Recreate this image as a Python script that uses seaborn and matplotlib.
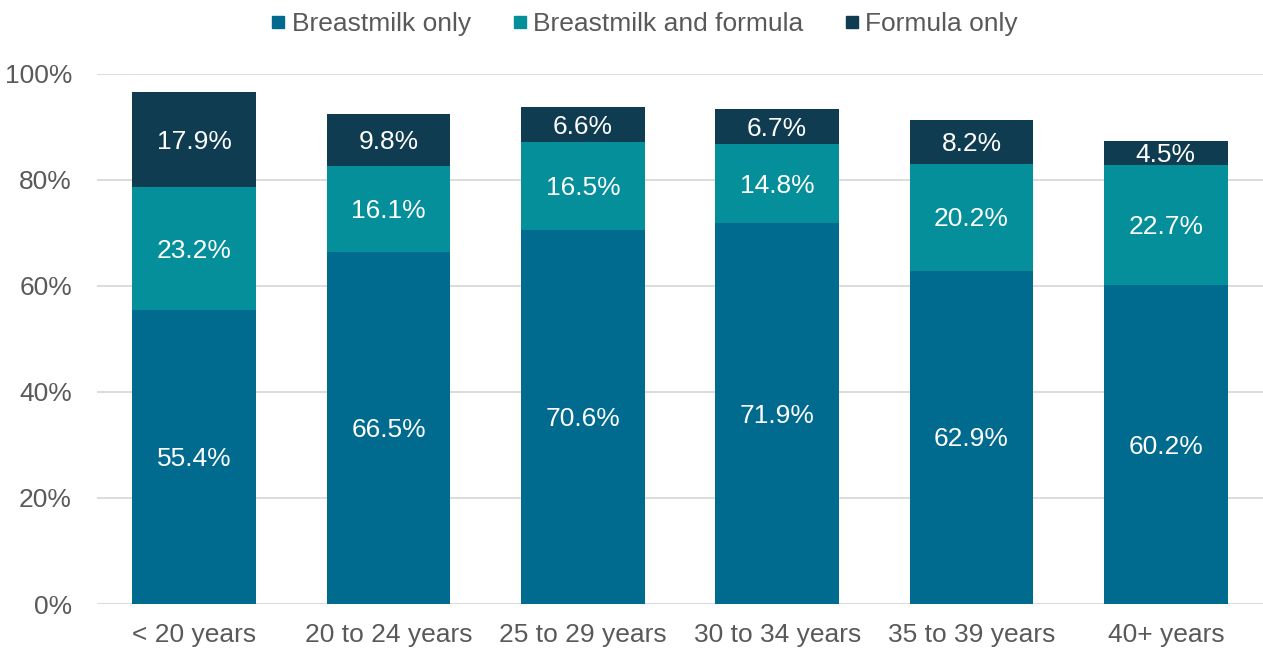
import matplotlib
matplotlib.use("Agg")
import matplotlib.pyplot as plt
from matplotlib import font_manager
from matplotlib.lines import Line2D
import numpy as np
import pandas as pd
import seaborn as sns

categories = ["< 20 years", "20 to 24 years", "25 to 29 years",
              "30 to 34 years", "35 to 39 years", "40+ years"]
breastmilk_only = [55.4, 66.5, 70.6, 71.9, 62.9, 60.2]
breastmilk_and_formula = [23.2, 16.1, 16.5, 14.8, 20.2, 22.7]
formula_only = [17.9, 9.8, 6.6, 6.7, 8.2, 4.5]

series_names = ["Breastmilk only", "Breastmilk and formula", "Formula only"]
colors = ["#006A8F", "#058F9A", "#0F3C51"]

sns.set_style("white")

# make sure the regular (not narrow) Liberation Sans is used
reg = [f for f in font_manager.findSystemFonts()
       if f.endswith("LiberationSans-Regular.ttf")]
if reg:
    font_manager.fontManager.addfont(reg[0])
    fam = font_manager.FontProperties(fname=reg[0]).get_name()
else:
    fam = "Liberation Sans"
plt.rcParams["font.family"] = [fam, "DejaVu Sans"]
fp = font_manager.FontProperties(fname=reg[0]) if reg else font_manager.FontProperties(family=fam)
FS = 19

df = pd.DataFrame({"age": categories,
                   series_names[0]: breastmilk_only,
                   series_names[1]: breastmilk_and_formula,
                   series_names[2]: formula_only})

fig = plt.figure(figsize=(12.63, 6.52), dpi=100)
ax = fig.add_axes([0.0768, 0.0736, 0.9232, 0.813])

bottom = np.zeros(len(categories))
for name, col in zip(series_names, colors):
    vals = df[name].to_numpy()
    sns.barplot(data=df, x="age", y=name, color=col, bottom=bottom,
                width=0.635, ax=ax, saturation=1, label=name, linewidth=0)
    # labels in the middle of each segment
    for i, v in enumerate(vals):
        ax.text(i, bottom[i] + v / 2 - 0.4, f"{v:.1f}%", ha="center", va="center",
                color="white", fontproperties=fp, fontsize=FS)
    bottom = bottom + vals

ax.set_ylim(0, 100)
ax.set_xlim(-0.5, len(categories) - 0.5)
ax.set_yticks(range(0, 101, 20))
ax.set_yticklabels([f"{t}%" for t in range(0, 101, 20)])
ax.yaxis.grid(True, color="#D9D9D9", linewidth=1.3)
ax.set_axisbelow(True)
ax.set_xlabel("")
ax.set_ylabel("")
for s in ax.spines.values():
    s.set_visible(False)
ax.tick_params(axis="both", length=0, colors="#595959")
for lab in ax.get_xticklabels() + ax.get_yticklabels():
    lab.set_fontproperties(fp)
    lab.set_fontsize(FS)
ax.tick_params(axis="y", pad=18)
ax.tick_params(axis="x", pad=14)

handles = [Line2D([], [], marker="s", linestyle="", markersize=9,
                  markerfacecolor=c, markeredgecolor=c) for c in colors]
if ax.get_legend():
    ax.get_legend().remove()
lp = fp.copy()
lp.set_size(FS)
fig.legend(handles, series_names, loc="center", bbox_to_anchor=(0.508, 0.963),
           ncol=3, frameon=False, prop=lp, handletextpad=0.0,
           columnspacing=1.36, handlelength=1.0, labelcolor="#595959")

fig.savefig("out.png", dpi=100)
